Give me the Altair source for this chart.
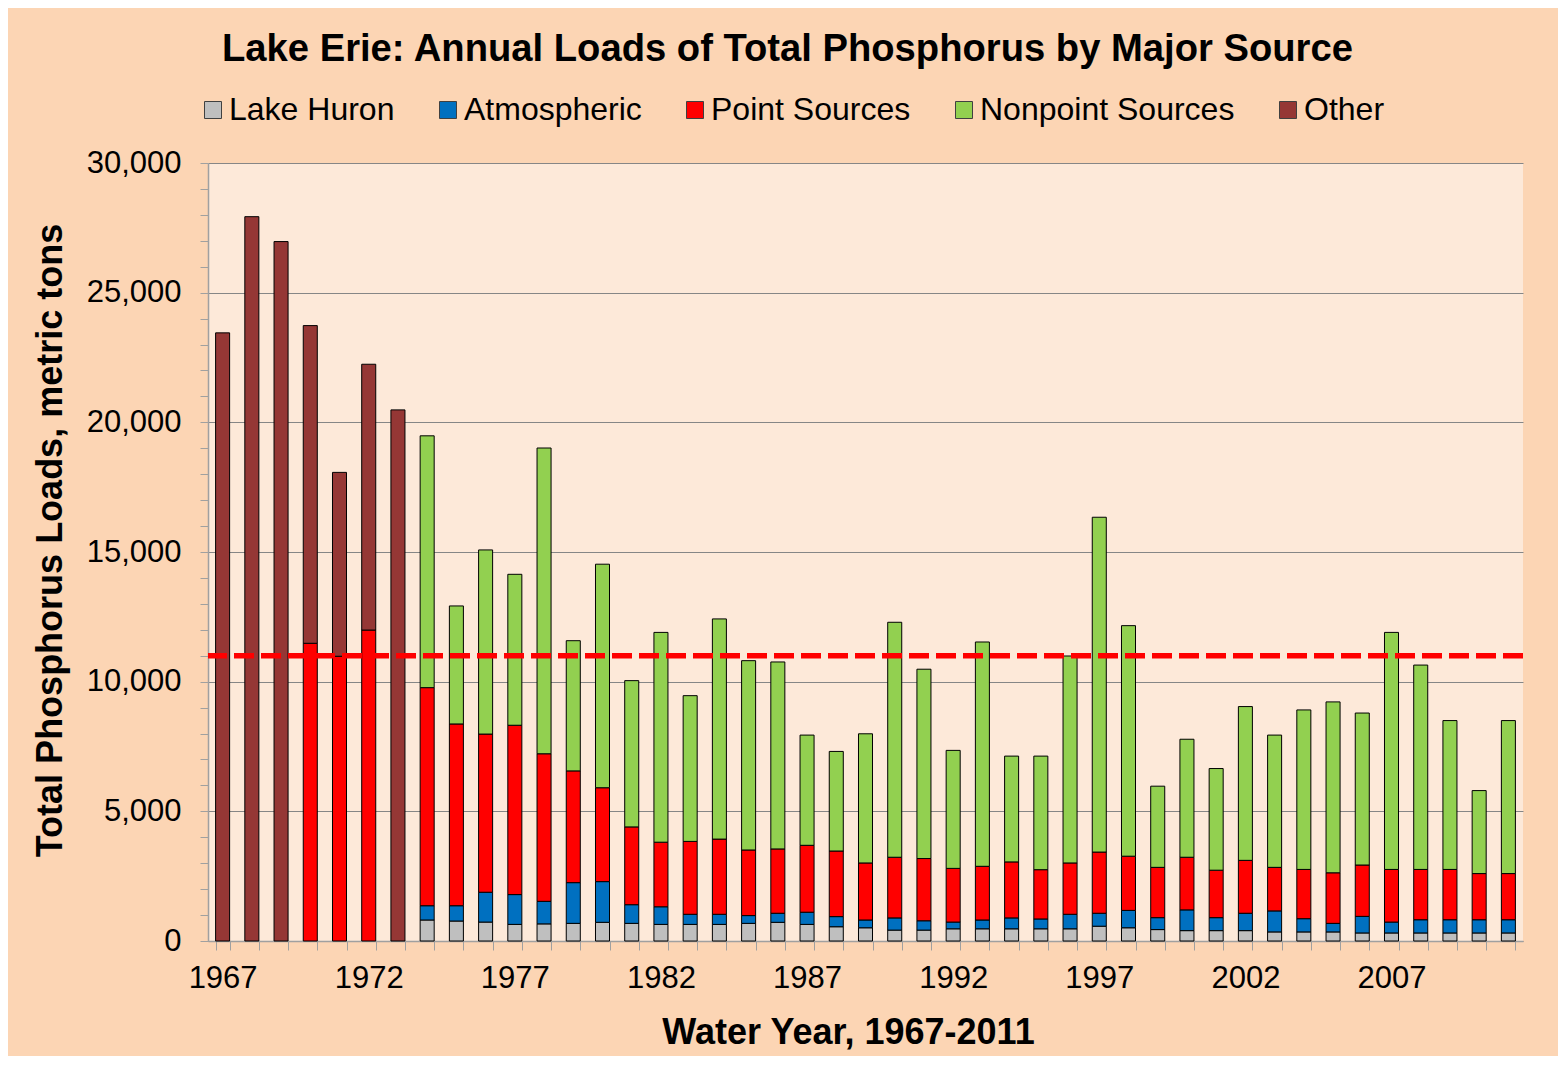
import altair as alt
import pandas as pd

years = list(range(1967, 2012))
series = ["Lake Huron", "Atmospheric", "Point Sources", "Nonpoint Sources", "Other"]
colors = ["#BFBFBF", "#0070C0", "#FF0000", "#92D050", "#953735"]

lake_huron = [0] * 7 + [810, 770, 730, 640, 660, 680, 720, 680, 640, 640, 640, 680, 720, 640, 550, 510,
                        420, 420, 470, 470, 470, 470, 470, 570, 510, 440, 400, 400, 400, 350, 350, 350,
                        310, 310, 310, 310, 310, 310]
atmospheric = [0] * 7 + [550, 590, 1150, 1150, 870, 1570, 1570, 720, 680, 390, 390, 300, 350, 470, 390, 300,
                         470, 360, 260, 340, 420, 380, 560, 500, 670, 460, 800, 500, 670, 810, 510, 330,
                         640, 420, 510, 510, 510, 510]
point_sources = [0, 0, 0, 11480, 10980, 11990, 0] + [8410, 7010, 6100, 6530, 5690, 4310, 3620, 3000, 2490,
                                                     2810, 2900, 2530, 2480, 2580, 2530, 2200, 2340, 2400,
                                                     2070, 2070, 2160, 1900, 1980, 2360, 2090, 1940, 2030,
                                                     1830, 2040, 1680, 1900, 1950, 1980, 2030, 1940, 1940,
                                                     1780, 1780]
nonpoint_sources = [0] * 7 + [9710, 4550, 7100, 5820, 11790, 5020, 8620, 5640, 8090, 5620, 8490, 7300, 7210,
                              4250, 3840, 4980, 9060, 7300, 4550, 8650, 4080, 4380, 7980, 12910, 8890, 3130,
                              4550, 3920, 5930, 5100, 6150, 6590, 5860, 9140, 7880, 5740, 3200, 5900]
other = [23450, 27930, 26970, 12250, 7090, 10250, 20480] + [0] * 38

target = [11000]
y_ticks = list(range(0, 30001, 1000))

rows = []
for i, y in enumerate(years):
    for k, (name, vals) in enumerate(zip(series, [lake_huron, atmospheric, point_sources,
                                                   nonpoint_sources, other])):
        if vals[i] > 0:
            rows.append({"year": y, "source": name, "load": vals[i], "order": k})
df = pd.DataFrame(rows)
df_target = pd.DataFrame({"target": target})

FONT = "Liberation Sans"
YTITLE = "Total Phosphorus Loads, metric tons"

bars = alt.Chart(df).mark_bar(stroke="black", strokeWidth=1).encode(
    x=alt.X("year:O",
            scale=alt.Scale(paddingInner=0.52, paddingOuter=0.26),
            axis=alt.Axis(title="Water Year, 1967-2011",
                          labelAngle=0,
                          labelExpr="(datum.value - 1967) % 5 == 0 ? datum.value : ''",
                          labelOverlap=False,
                          tickBand="extent",
                          tickSize=9,
                          labelPadding=13,
                          titlePadding=22,
                          titleX=640)),
    y=alt.Y("load:Q", stack="zero",
            scale=alt.Scale(domain=[0, 30000], nice=False),
            axis=alt.Axis(title=YTITLE,
                          values=y_ticks,
                          tickCount=100,
                          labelOverlap=False,
                          labelExpr="datum.value % 5000 == 0 ? format(datum.value, ',') : ''",
                          gridOpacity={"condition": {"test": "datum.value % 5000 == 0", "value": 1},
                                       "value": 0},
                          tickSize=8,
                          labelPadding=19,
                          titlePadding=17,
                          titleY=377)),
    color=alt.Color("source:N",
                    scale=alt.Scale(domain=series, range=colors),
                    legend=alt.Legend(title=None, orient="none", direction="horizontal",
                                      legendX=-11, legendY=-69, columns=5,
                                      symbolType="square", symbolSize=289,
                                      symbolStrokeColor="#404040", symbolStrokeWidth=1,
                                      labelFont=FONT, labelFontSize=32, labelColor="black",
                                      labelOffset=0, labelLimit=500, columnPadding=37)),
    order=alt.Order("order:Q", sort="ascending"),
)

rule = alt.Chart(df_target).mark_rule(color="#FF0000", strokeWidth=5.5, strokeDash=[20, 7]).encode(
    y=alt.Y("target:Q", title=YTITLE)
)

chart = alt.layer(bars, rule).properties(
    width=1315,
    height=778,
    title=alt.TitleParams("Lake Erie: Annual Loads of Total Phosphorus by Major Source",
                          font=FONT, fontSize=38.2, fontWeight="bold", color="black",
                          anchor="middle", offset=25, dx=-78),
    background="#FCD5B4",
    padding={"left": 200, "top": 155, "right": 35, "bottom": 115},
    autosize=alt.AutoSizeParams(type="none"),
).configure_view(
    fill="#FDE9D9", stroke=None
).configure_axis(
    labelFont=FONT, labelFontSize=31, labelColor="black",
    titleFont=FONT, titleFontSize=36, titleFontWeight="bold", titleColor="black",
    domainColor="#A0A0A0", tickColor="#A0A0A0", gridColor="#868686", gridWidth=1,
    domainWidth=1.5,
).configure_axisX(grid=False).configure_axisY(grid=True)

chart.save("out.html", embed_options={"renderer": "svg", "actions": False})
